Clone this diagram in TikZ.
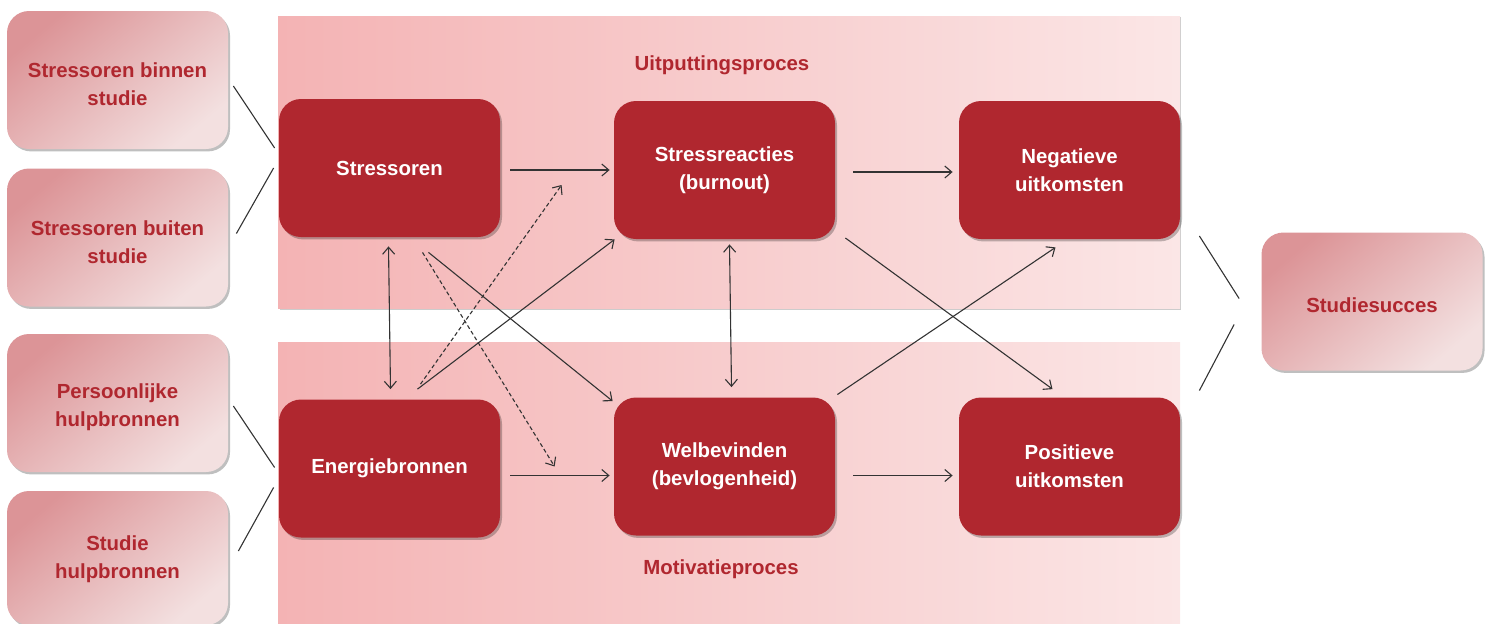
\documentclass[tikz,border=0pt]{standalone}
\usepackage{fontspec}
\setmainfont{Liberation Sans}
\usetikzlibrary{arrows.meta,calc,shadows}
\definecolor{dred}{HTML}{B0272F}
\definecolor{ltA}{HTML}{DC9497}
\definecolor{ltB}{HTML}{F3E0E0}
\definecolor{panA}{HTML}{F4B3B4}
\definecolor{panB}{HTML}{FBE6E6}
\definecolor{lnc}{HTML}{333333}
\tikzset{
  boxshadow/.style={drop shadow={shadow xshift=1pt,shadow yshift=-1.2pt,opacity=0.25,fill=black}},
  darkbox/.style={rounded corners=11pt,fill=dred,text=white,align=center,
    minimum width=110.5pt,minimum height=69pt,inner sep=0pt,boxshadow},
  lightbox/.style={rounded corners=11pt,top color=ltA,bottom color=ltB,shading angle=40,
    minimum width=110.5pt,minimum height=69pt,inner sep=0pt,boxshadow},
  ltext/.style={text=dred,align=center,inner sep=0pt,yshift=-2.2pt},
  plainline/.style={draw=lnc,line width=0.55pt},
  arr/.style={plainline,-{Straight Barb[length=3.5pt,width=6pt]}},
  darr/.style={plainline,{Straight Barb[length=3.5pt,width=6pt]}-{Straight Barb[length=3.5pt,width=6pt]}},
  dasharr/.style={arr,dash pattern=on 2pt off 1.3pt},
  plabel/.style={text=dred}
}
\begin{document}
\begin{tikzpicture}[x=0.5pt,y=-0.5pt,font=\bfseries\fontsize{10.2}{14}\selectfont]
\useasboundingbox (0,0) rectangle (1489,623);
% panels
\fill[black,opacity=0.2] (280,17) rectangle (1181,310);
\fill[left color=panA,right color=panB] (278,16) rectangle (1180,308);
\fill[left color=panA,right color=panB] (278,342) rectangle (1180,623);
\node[plabel] (up) at (722,65) {Uitputtingsproces};
\node[plabel] (mp) at (721,569) {Motivatieproces};
% left boxes
\node[lightbox,label={[ltext]center:Stressoren binnen\\studie}] (l1) at (117.5,80) {};
\node[lightbox,label={[ltext]center:Stressoren buiten\\studie}] (l2) at (117.5,237.5) {};
\node[lightbox,label={[ltext]center:Persoonlijke\\hulpbronnen}] (l3) at (117.5,403) {};
\node[lightbox,minimum height=67pt,label={[ltext,yshift=1.5pt]center:Studie\\hulpbronnen}] (l4) at (117.5,558) {};
% dark boxes
\node[darkbox] (stress) at (389.5,168) {Stressoren};
\node[darkbox] (energie) at (389.5,468.5) {Energiebronnen};
\node[darkbox] (react) at (724.5,170) {Stressreacties\\(burnout)};
\node[darkbox] (welb) at (724.5,466.5) {Welbevinden\\(bevlogenheid)};
\node[darkbox] (neg) at (1069.5,170) {Negatieve\\uitkomsten};
\node[darkbox] (pos) at (1069.5,466.5) {Positieve\\uitkomsten};
\node[lightbox,label={[ltext,yshift=0.5pt]center:Studiesucces}] (succ) at (1372,301.5) {};
% plain lines
\draw[plainline] ($(l1.east)+(5,6)$) -- ($(stress.west)+(-4,-20)$);
\draw[plainline] ($(l2.east)+(8,-4)$) -- ($(stress.west)+(-5,0)$);
\draw[plainline] ($(l3.east)+(5,3)$) -- ($(energie.west)+(-4,-1)$);
\draw[plainline] ($(l4.east)+(10,-7)$) -- ($(energie.west)+(-5,19)$);
\draw[plainline] ($(neg.east)+(19,66)$) -- ($(succ.west)+(-22,-3)$);
\draw[plainline] ($(pos.east)+(19,-76)$) -- ($(succ.west)+(-27,23)$);
% arrows
\draw[arr] ($(stress.east)+(10,2)$) -- ($(react.west)+(-4,0)$);
\draw[arr] ($(energie.east)+(10,7)$) -- ($(welb.west)+(-4,9)$);
\draw[arr] ($(react.east)+(18,2)$) -- ($(neg.west)+(-6,2)$);
\draw[arr] ($(welb.east)+(18,9)$) -- ($(pos.west)+(-6,9)$);
\draw[darr] ($(stress.south)+(-1,9)$) -- ($(energie.north)+(1,-10)$);
\draw[darr] ($(react.south)+(5,5)$) -- ($(welb.north)+(7,-10)$);
\draw[arr] ($(stress.south)+(39,15)$) -- ($(welb.north west)+(-1,4)$);
\draw[arr] ($(energie.north)+(28,-10)$) -- ($(react.south west)+(1,0)$);
\draw[dasharr] ($(stress.south)+(33,15)$) -- ($(welb.west)+(-59,0)$);
\draw[dasharr] ($(energie.north)+(31,-15)$) -- ($(react.west)+(-52,15)$);
\draw[arr] ($(react.east)+(10,68)$) -- ($(pos.north)+(-17,-8)$);
\draw[arr] ($(welb.east)+(2,-72)$) -- ($(neg.south)+(-14,8)$);
\end{tikzpicture}
\end{document}
